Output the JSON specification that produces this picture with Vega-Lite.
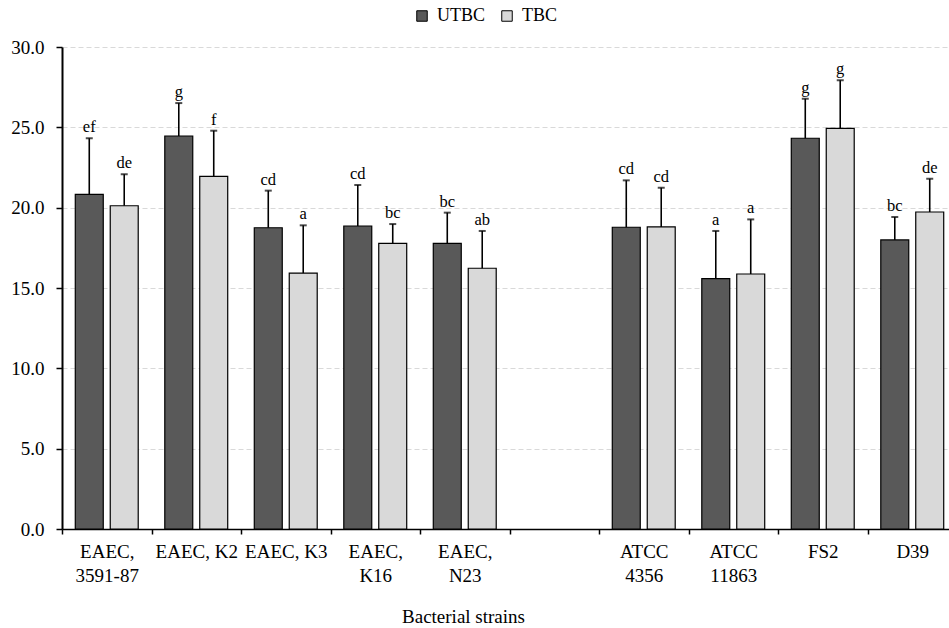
{
  "$schema": "https://vega.github.io/schema/vega-lite/v6.json",
  "autosize": {"type": "none"},
  "width": 887,
  "height": 482,
  "padding": {"left": 62, "top": 47, "right": 0, "bottom": 99},
  "background": "white",
  "config": {
    "font": "Liberation Serif",
    "view": {"stroke": null},
    "axis": {"labelFont": "Liberation Serif", "titleFont": "Liberation Serif", "labelColor": "black", "titleColor": "black"},
    "legend": {"labelFont": "Liberation Serif"},
    "text": {"font": "Liberation Serif"}
  },
  "data": {
    "values": [
      {"strain": "EAEC, 3591-87", "group": "UTBC", "mean": 20.83, "upper": 24.32, "letter": "ef"},
      {"strain": "EAEC, 3591-87", "group": "TBC", "mean": 20.12, "upper": 22.08, "letter": "de"},
      {"strain": "EAEC, K2", "group": "UTBC", "mean": 24.46, "upper": 26.51, "letter": "g"},
      {"strain": "EAEC, K2", "group": "TBC", "mean": 21.95, "upper": 24.79, "letter": "f"},
      {"strain": "EAEC, K3", "group": "UTBC", "mean": 18.75, "upper": 21.06, "letter": "cd"},
      {"strain": "EAEC, K3", "group": "TBC", "mean": 15.93, "upper": 18.9, "letter": "a"},
      {"strain": "EAEC, K16", "group": "UTBC", "mean": 18.86, "upper": 21.41, "letter": "cd"},
      {"strain": "EAEC, K16", "group": "TBC", "mean": 17.78, "upper": 18.98, "letter": "bc"},
      {"strain": "EAEC, N23", "group": "UTBC", "mean": 17.78, "upper": 19.69, "letter": "bc"},
      {"strain": "EAEC, N23", "group": "TBC", "mean": 16.23, "upper": 18.55, "letter": "ab"},
      {"strain": "ATCC 4356", "group": "UTBC", "mean": 18.78, "upper": 21.7, "letter": "cd"},
      {"strain": "ATCC 4356", "group": "TBC", "mean": 18.8, "upper": 21.24, "letter": "cd"},
      {"strain": "ATCC 11863", "group": "UTBC", "mean": 15.58, "upper": 18.55, "letter": "a"},
      {"strain": "ATCC 11863", "group": "TBC", "mean": 15.87, "upper": 19.27, "letter": "a"},
      {"strain": "FS2", "group": "UTBC", "mean": 24.32, "upper": 26.78, "letter": "g"},
      {"strain": "FS2", "group": "TBC", "mean": 24.94, "upper": 27.93, "letter": "g"},
      {"strain": "D39", "group": "UTBC", "mean": 17.99, "upper": 19.42, "letter": "bc"},
      {"strain": "D39", "group": "TBC", "mean": 19.73, "upper": 21.8, "letter": "de"}
    ]
  },
  "encoding": {
    "x": {
      "field": "strain",
      "type": "nominal",
      "sort": null,
      "scale": {
        "domain": ["EAEC, 3591-87", "EAEC, K2", "EAEC, K3", "EAEC, K16", "EAEC, N23", " ", "ATCC 4356", "ATCC 11863", "FS2", "D39"],
        "range": [0, 895],
        "paddingInner": 0,
        "paddingOuter": 0
      },
      "axis": {
        "title": "Bacterial strains",
        "titleFont": "Liberation Serif",
        "titleFontSize": 19,
        "titleFontWeight": "normal",
        "titleX": 401,
        "titleY": 93,
        "titleAlign": "center",
        "titleBaseline": "alphabetic",
        "labelFont": "Liberation Serif",
        "labelFontSize": 19,
        "labelAngle": 0,
        "labelBaseline": "top",
        "labelPadding": 8,
        "labelLineHeight": 24,
        "labelLimit": 200,
        "labelExpr": "datum.value == 'EAEC, 3591-87' ? ['EAEC,', '3591-87'] : datum.value == 'EAEC, K16' ? ['EAEC,', 'K16'] : datum.value == 'EAEC, N23' ? ['EAEC,', 'N23'] : datum.value == 'ATCC 4356' ? ['ATCC', '4356'] : datum.value == 'ATCC 11863' ? ['ATCC', '11863'] : datum.label",
        "tickBand": "extent",
        "tickSize": 5,
        "tickColor": "black",
        "tickWidth": 1.5,
        "domainColor": "black",
        "domainWidth": 1.5,
        "grid": false
      }
    },
    "xOffset": {
      "field": "group",
      "type": "nominal",
      "sort": ["UTBC", "TBC"],
      "scale": {"domain": ["UTBC", "TBC"], "paddingInner": 0.2, "paddingOuter": 0.38}
    }
  },
  "layer": [
    {
      "mark": {"type": "bar", "stroke": "black", "strokeWidth": 1.2},
      "encoding": {
        "y": {
          "field": "mean",
          "type": "quantitative",
          "scale": {"domain": [0, 30], "nice": false},
          "axis": {
            "title": null,
            "values": [0, 5, 10, 15, 20, 25, 30],
            "format": ".1f",
            "labelFont": "Liberation Serif",
            "labelFontSize": 19,
            "labelPadding": 12,
            "tickSize": 6,
            "tickColor": "black",
            "tickWidth": 1.5,
            "domainColor": "black",
            "domainWidth": 2,
            "grid": true,
            "gridColor": "#d9d9d9",
            "gridDash": [5, 3],
            "gridWidth": 1
          }
        },
        "color": {
          "field": "group",
          "type": "nominal",
          "sort": ["UTBC", "TBC"],
          "scale": {"domain": ["UTBC", "TBC"], "range": ["#595959", "#d9d9d9"]},
          "legend": {
            "title": null,
            "orient": "none",
            "direction": "horizontal",
            "legendX": 351,
            "legendY": -40,
            "padding": 0,
            "symbolType": "square",
            "symbolSize": 110,
            "symbolStrokeColor": "black",
            "symbolStrokeWidth": 1,
            "symbolOpacity": 1,
            "labelFont": "Liberation Serif",
            "labelFontSize": 18,
            "labelColor": "black",
            "labelOffset": 6,
            "columnPadding": 12
          }
        }
      }
    },
    {
      "mark": {"type": "rule", "color": "black", "strokeWidth": 1.6},
      "encoding": {
        "y": {"field": "mean", "type": "quantitative"},
        "y2": {"field": "upper"}
      }
    },
    {
      "mark": {"type": "tick", "color": "black", "thickness": 2, "size": 7, "orient": "horizontal"},
      "encoding": {
        "y": {"field": "upper", "type": "quantitative"}
      }
    },
    {
      "mark": {"type": "text", "font": "Liberation Serif", "fontSize": 16.5, "color": "black", "baseline": "alphabetic", "dy": -6},
      "encoding": {
        "y": {"field": "upper", "type": "quantitative"},
        "text": {"field": "letter"}
      }
    }
  ]
}
